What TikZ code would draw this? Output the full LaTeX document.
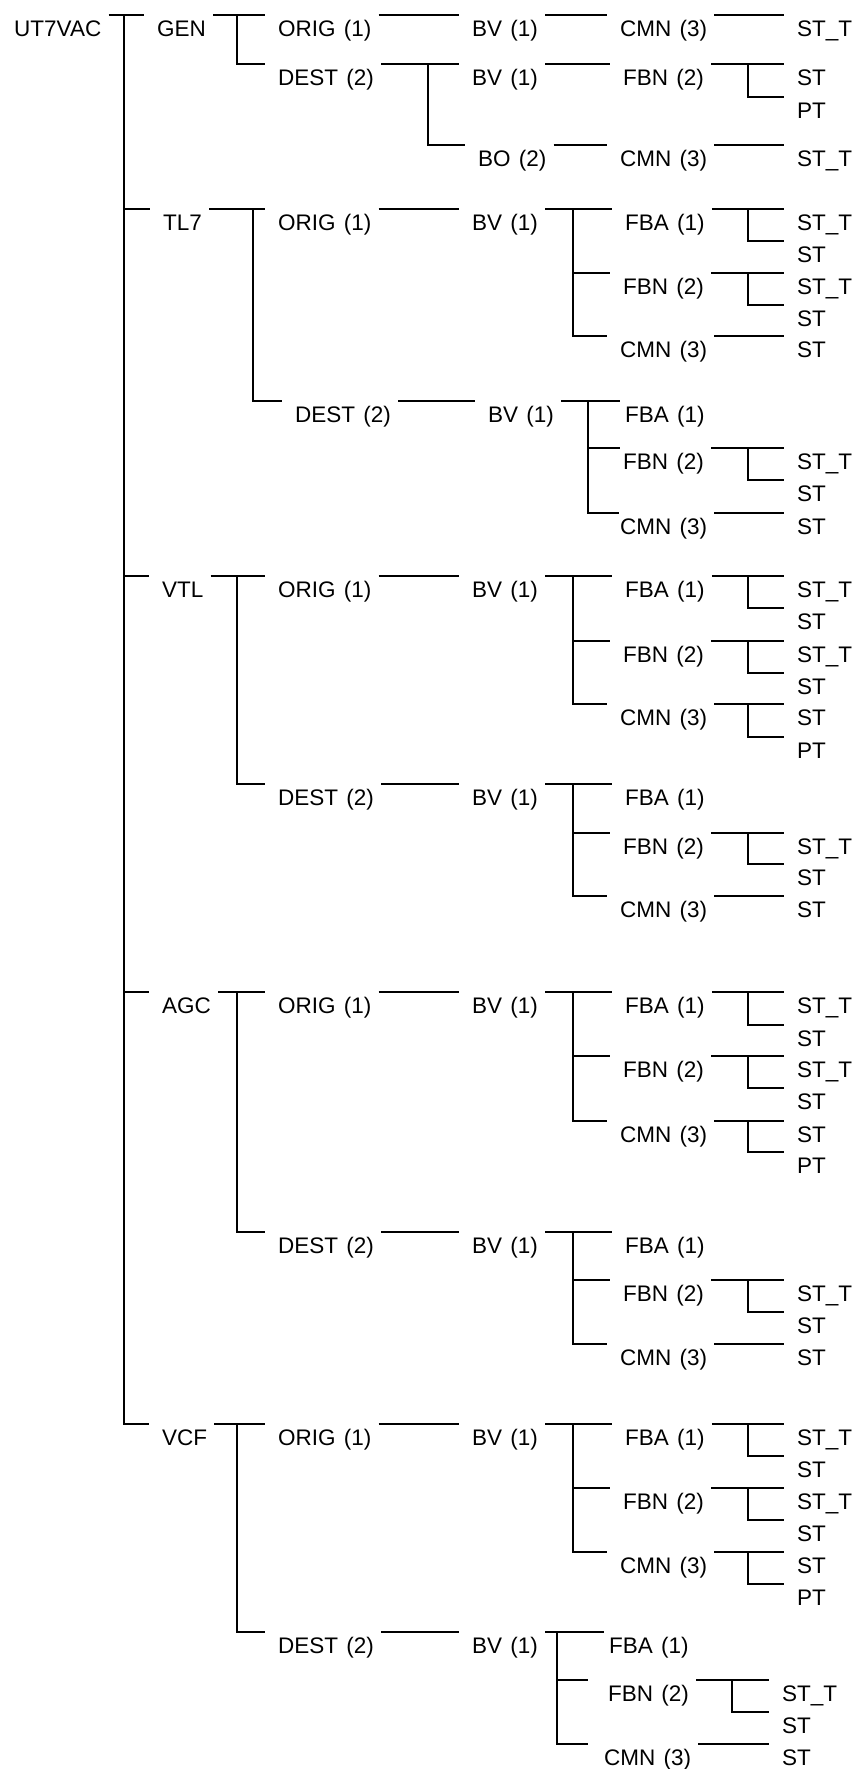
\documentclass[tikz,border=0pt]{standalone}
\usepackage{fontspec}
\setmainfont{Liberation Sans}[WordSpace=1.3]
\usepackage{tikz}
\usetikzlibrary{positioning}

\begin{document}
\begin{tikzpicture}[
    x=1pt, y=-1pt,
    font=\fontsize{22.5}{26}\selectfont,
    lbl/.style={anchor=north west, inner xsep=0pt, inner ysep=0pt, text height=21pt, text depth=5pt},
    link/.style={line width=2.2pt, shorten <=7pt, shorten >=13pt},
    drop/.style={line width=2.2pt, shorten >=13pt},
]
\useasboundingbox (0,0) rectangle (859,1769);

% Root
\node[lbl] (root) at (14,15) {UT7VAC};
\coordinate (trunk) at (124,15);

% GEN
\node[lbl] (gen) at (157,15) {GEN};
\draw[link] (root.north east) -- (gen.north west);
\coordinate (genbar) at (237,15);
\node[lbl] (go) at (278,15) {ORIG (1)};
\node[lbl] (gd) at (278,64) {DEST (2)};
\draw[link] (gen.north east) -- (go.north west);
\draw[drop] (genbar) |- (gd.north west);

% GEN / ORIG
\node[lbl] (gobv) at (472,15) {BV (1)};
\node[lbl] (gocmn) at (620,15) {CMN (3)};
\node[lbl] (gost) at (797,15) {ST\_T};
\draw[link] (go.north east) -- (gobv.north west);
\draw[link] (gobv.north east) -- (gocmn.north west);
\draw[link] (gocmn.north east) -- (gost.north west);

% GEN / DEST
\coordinate (gdbar) at (428,64);
\node[lbl] (gdbv) at (472,64) {BV (1)};
\node[lbl] (gbo) at (478,145) {BO (2)};
\draw[link] (gd.north east) -- (gdbv.north west);
\draw[drop] (gdbar) |- (gbo.north west);
\node[lbl] (gdfbn) at (623,64) {FBN (2)};
\draw[link] (gdbv.north east) -- (gdfbn.north west);
\coordinate (gdfbnbar) at (748,64);
\node[lbl] (gdst) at (797,64) {ST};
\node[lbl] (gdpt) at (797,97) {PT};
\draw[link] (gdfbn.north east) -- (gdst.north west);
\draw[drop] (gdfbnbar) |- (gdpt.north west);
\node[lbl] (gbocmn) at (620,145) {CMN (3)};
\node[lbl] (gbost) at (797,145) {ST\_T};
\draw[link] (gbo.north east) -- (gbocmn.north west);
\draw[link] (gbocmn.north east) -- (gbost.north west);

% TL7
\node[lbl] (tl7) at (163,209) {TL7};
\draw[drop] (trunk) |- (tl7.north west);
\coordinate (tl7bar) at (253,209);
\node[lbl] (to) at (278,209) {ORIG (1)};
\node[lbl] (td) at (295,401) {DEST (2)};
\draw[link] (tl7.north east) -- (to.north west);
\draw[drop] (tl7bar) |- (td.north west);

% TL7 / ORIG
\node[lbl] (tobv) at (472,209) {BV (1)};
\draw[link] (to.north east) -- (tobv.north west);
\coordinate (tobvbar) at (573,209);
\node[lbl] (tofba) at (625,209) {FBA (1)};
\node[lbl] (tofbn) at (623,273) {FBN (2)};
\node[lbl] (tocmn) at (620,336) {CMN (3)};
\draw[link] (tobv.north east) -- (tofba.north west);
\draw[drop] (tobvbar) |- (tofbn.north west);
\draw[drop] (tobvbar) |- (tocmn.north west);
\coordinate (tofbabar) at (748,209);
\node[lbl] (tofba1) at (797,209) {ST\_T};
\node[lbl] (tofba2) at (797,241) {ST};
\draw[link] (tofba.north east) -- (tofba1.north west);
\draw[drop] (tofbabar) |- (tofba2.north west);
\coordinate (tofbnbar) at (748,273);
\node[lbl] (tofbn1) at (797,273) {ST\_T};
\node[lbl] (tofbn2) at (797,305) {ST};
\draw[link] (tofbn.north east) -- (tofbn1.north west);
\draw[drop] (tofbnbar) |- (tofbn2.north west);
\node[lbl] (tocmn1) at (797,336) {ST};
\draw[link] (tocmn.north east) -- (tocmn1.north west);

% TL7 / DEST
\node[lbl] (tdbv) at (488,401) {BV (1)};
\draw[link] (td.north east) -- (tdbv.north west);
\coordinate (tdbvbar) at (588,401);
\node[lbl] (tdfba) at (625,401) {FBA (1)};
\node[lbl] (tdfbn) at (623,448) {FBN (2)};
\node[lbl] (tdcmn) at (620,513) {CMN (3)};
\draw[link, shorten >=5pt] (tdbv.north east) -- (tdfba.north west);
\draw[drop, shorten >=3pt] (tdbvbar) |- (tdfbn.north west);
\draw[drop, shorten >=1pt] (tdbvbar) |- (tdcmn.north west);
\coordinate (tdfbnbar) at (748,448);
\node[lbl] (tdfbn1) at (797,448) {ST\_T};
\node[lbl] (tdfbn2) at (797,480) {ST};
\draw[link] (tdfbn.north east) -- (tdfbn1.north west);
\draw[drop] (tdfbnbar) |- (tdfbn2.north west);
\node[lbl] (tdcmn1) at (797,513) {ST};
\draw[link] (tdcmn.north east) -- (tdcmn1.north west);

% VTL
\node[lbl] (vtl) at (162,576) {VTL};
\draw[drop] (trunk) |- (vtl.north west);
\coordinate (vtlbar) at (237,576);
\node[lbl] (vo) at (278,576) {ORIG (1)};
\node[lbl] (vd) at (278,784) {DEST (2)};
\draw[link] (vtl.north east) -- (vo.north west);
\draw[drop] (vtlbar) |- (vd.north west);

% VTL / ORIG
\node[lbl] (vobv) at (472,576) {BV (1)};
\draw[link] (vo.north east) -- (vobv.north west);
\coordinate (vobvbar) at (573,576);
\node[lbl] (vofba) at (625,576) {FBA (1)};
\node[lbl] (vofbn) at (623,641) {FBN (2)};
\node[lbl] (vocmn) at (620,704) {CMN (3)};
\draw[link] (vobv.north east) -- (vofba.north west);
\draw[drop] (vobvbar) |- (vofbn.north west);
\draw[drop] (vobvbar) |- (vocmn.north west);
\coordinate (vofbabar) at (748,576);
\node[lbl] (vofba1) at (797,576) {ST\_T};
\node[lbl] (vofba2) at (797,608) {ST};
\draw[link] (vofba.north east) -- (vofba1.north west);
\draw[drop] (vofbabar) |- (vofba2.north west);
\coordinate (vofbnbar) at (748,641);
\node[lbl] (vofbn1) at (797,641) {ST\_T};
\node[lbl] (vofbn2) at (797,673) {ST};
\draw[link] (vofbn.north east) -- (vofbn1.north west);
\draw[drop] (vofbnbar) |- (vofbn2.north west);
\coordinate (vocmnbar) at (748,704);
\node[lbl] (vocmn1) at (797,704) {ST};
\node[lbl] (vocmn2) at (797,737) {PT};
\draw[link] (vocmn.north east) -- (vocmn1.north west);
\draw[drop] (vocmnbar) |- (vocmn2.north west);

% VTL / DEST
\node[lbl] (vdbv) at (472,784) {BV (1)};
\draw[link] (vd.north east) -- (vdbv.north west);
\coordinate (vdbvbar) at (573,784);
\node[lbl] (vdfba) at (625,784) {FBA (1)};
\node[lbl] (vdfbn) at (623,833) {FBN (2)};
\node[lbl] (vdcmn) at (620,896) {CMN (3)};
\draw[link] (vdbv.north east) -- (vdfba.north west);
\draw[drop] (vdbvbar) |- (vdfbn.north west);
\draw[drop] (vdbvbar) |- (vdcmn.north west);
\coordinate (vdfbnbar) at (748,833);
\node[lbl] (vdfbn1) at (797,833) {ST\_T};
\node[lbl] (vdfbn2) at (797,864) {ST};
\draw[link] (vdfbn.north east) -- (vdfbn1.north west);
\draw[drop] (vdfbnbar) |- (vdfbn2.north west);
\node[lbl] (vdcmn1) at (797,896) {ST};
\draw[link] (vdcmn.north east) -- (vdcmn1.north west);

% AGC
\node[lbl] (agc) at (162,992) {AGC};
\draw[drop] (trunk) |- (agc.north west);
\coordinate (agcbar) at (237,992);
\node[lbl] (ao) at (278,992) {ORIG (1)};
\node[lbl] (ad) at (278,1232) {DEST (2)};
\draw[link] (agc.north east) -- (ao.north west);
\draw[drop] (agcbar) |- (ad.north west);

% AGC / ORIG
\node[lbl] (aobv) at (472,992) {BV (1)};
\draw[link] (ao.north east) -- (aobv.north west);
\coordinate (aobvbar) at (573,992);
\node[lbl] (aofba) at (625,992) {FBA (1)};
\node[lbl] (aofbn) at (623,1056) {FBN (2)};
\node[lbl] (aocmn) at (620,1121) {CMN (3)};
\draw[link] (aobv.north east) -- (aofba.north west);
\draw[drop] (aobvbar) |- (aofbn.north west);
\draw[drop] (aobvbar) |- (aocmn.north west);
\coordinate (aofbabar) at (748,992);
\node[lbl] (aofba1) at (797,992) {ST\_T};
\node[lbl] (aofba2) at (797,1025) {ST};
\draw[link] (aofba.north east) -- (aofba1.north west);
\draw[drop] (aofbabar) |- (aofba2.north west);
\coordinate (aofbnbar) at (748,1056);
\node[lbl] (aofbn1) at (797,1056) {ST\_T};
\node[lbl] (aofbn2) at (797,1088) {ST};
\draw[link] (aofbn.north east) -- (aofbn1.north west);
\draw[drop] (aofbnbar) |- (aofbn2.north west);
\coordinate (aocmnbar) at (748,1121);
\node[lbl] (aocmn1) at (797,1121) {ST};
\node[lbl] (aocmn2) at (797,1152) {PT};
\draw[link] (aocmn.north east) -- (aocmn1.north west);
\draw[drop] (aocmnbar) |- (aocmn2.north west);

% AGC / DEST
\node[lbl] (adbv) at (472,1232) {BV (1)};
\draw[link] (ad.north east) -- (adbv.north west);
\coordinate (adbvbar) at (573,1232);
\node[lbl] (adfba) at (625,1232) {FBA (1)};
\node[lbl] (adfbn) at (623,1280) {FBN (2)};
\node[lbl] (adcmn) at (620,1344) {CMN (3)};
\draw[link] (adbv.north east) -- (adfba.north west);
\draw[drop] (adbvbar) |- (adfbn.north west);
\draw[drop] (adbvbar) |- (adcmn.north west);
\coordinate (adfbnbar) at (748,1280);
\node[lbl] (adfbn1) at (797,1280) {ST\_T};
\node[lbl] (adfbn2) at (797,1312) {ST};
\draw[link] (adfbn.north east) -- (adfbn1.north west);
\draw[drop] (adfbnbar) |- (adfbn2.north west);
\node[lbl] (adcmn1) at (797,1344) {ST};
\draw[link] (adcmn.north east) -- (adcmn1.north west);

% VCF
\node[lbl] (vcf) at (162,1424) {VCF};
\draw[drop] (trunk) |- (vcf.north west);
\coordinate (vcfbar) at (237,1424);
\node[lbl] (co) at (278,1424) {ORIG (1)};
\node[lbl] (cd) at (278,1632) {DEST (2)};
\draw[link] (vcf.north east) -- (co.north west);
\draw[drop] (vcfbar) |- (cd.north west);

% VCF / ORIG
\node[lbl] (cobv) at (472,1424) {BV (1)};
\draw[link] (co.north east) -- (cobv.north west);
\coordinate (cobvbar) at (573,1424);
\node[lbl] (cofba) at (625,1424) {FBA (1)};
\node[lbl] (cofbn) at (623,1488) {FBN (2)};
\node[lbl] (cocmn) at (620,1552) {CMN (3)};
\draw[link] (cobv.north east) -- (cofba.north west);
\draw[drop] (cobvbar) |- (cofbn.north west);
\draw[drop] (cobvbar) |- (cocmn.north west);
\coordinate (cofbabar) at (748,1424);
\node[lbl] (cofba1) at (797,1424) {ST\_T};
\node[lbl] (cofba2) at (797,1456) {ST};
\draw[link] (cofba.north east) -- (cofba1.north west);
\draw[drop] (cofbabar) |- (cofba2.north west);
\coordinate (cofbnbar) at (748,1488);
\node[lbl] (cofbn1) at (797,1488) {ST\_T};
\node[lbl] (cofbn2) at (797,1520) {ST};
\draw[link] (cofbn.north east) -- (cofbn1.north west);
\draw[drop] (cofbnbar) |- (cofbn2.north west);
\coordinate (cocmnbar) at (748,1552);
\node[lbl] (cocmn1) at (797,1552) {ST};
\node[lbl] (cocmn2) at (797,1584) {PT};
\draw[link] (cocmn.north east) -- (cocmn1.north west);
\draw[drop] (cocmnbar) |- (cocmn2.north west);

% VCF / DEST
\node[lbl] (cdbv) at (472,1632) {BV (1)};
\draw[link] (cd.north east) -- (cdbv.north west);
\coordinate (cdbvbar) at (557,1632);
\node[lbl] (cdfba) at (609,1632) {FBA (1)};
\node[lbl] (cdfbn) at (608,1680) {FBN (2)};
\node[lbl] (cdcmn) at (604,1744) {CMN (3)};
\draw[link, shorten >=5pt] (cdbv.north east) -- (cdfba.north west);
\draw[drop, shorten >=20pt] (cdbvbar) |- (cdfbn.north west);
\draw[drop, shorten >=16pt] (cdbvbar) |- (cdcmn.north west);
\coordinate (cdfbnbar) at (732,1680);
\node[lbl] (cdfbn1) at (782,1680) {ST\_T};
\node[lbl] (cdfbn2) at (782,1712) {ST};
\draw[link] (cdfbn.north east) -- (cdfbn1.north west);
\draw[drop] (cdfbnbar) |- (cdfbn2.north west);
\node[lbl] (cdcmn1) at (782,1744) {ST};
\draw[link] (cdcmn.north east) -- (cdcmn1.north west);
\end{tikzpicture}
\end{document}
